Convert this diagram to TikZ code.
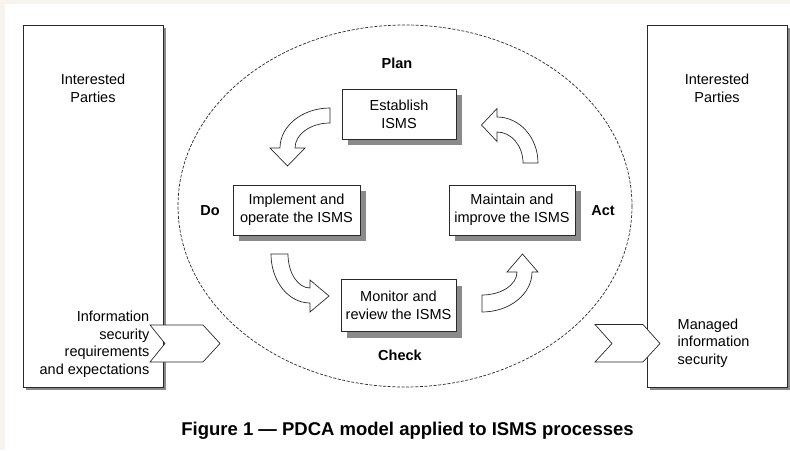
\documentclass[tikz,border=0pt]{standalone}
\usepackage{fontspec}
\setmainfont{Liberation Sans}
\usetikzlibrary{shadows}
\definecolor{paper}{HTML}{F7F3EE}
\definecolor{ink}{HTML}{2A2A2A}
\definecolor{shade}{HTML}{8A8A8A}
\tikzset{
  procbox/.style={draw=ink, line width=0.9pt, fill=white, inner sep=0pt,
    align=center, font=\fontsize{14.5}{18}\selectfont,
    drop shadow={shadow xshift=6pt, shadow yshift=-6pt, fill=shade, opacity=1}},
  partybox/.style={draw=ink, line width=0.9pt, fill=white, inner sep=0pt,
    minimum width=140pt, minimum height=362pt,
    drop shadow={shadow xshift=3pt, shadow yshift=-3pt, fill=shade, opacity=1}},
  body/.style={align=center, font=\fontsize{14.5}{17.5}\selectfont, inner sep=0pt},
  phase/.style={font=\bfseries\fontsize{14.5}{17}\selectfont, inner sep=0pt},
  blockarrow/.style={draw=ink, line width=0.7pt, fill=white, line join=miter},
}
\begin{document}
\begin{tikzpicture}[x=1pt,y=-1pt]
% page ground
\fill[paper] (0,0) rectangle (790,450);
\fill[white] (5,4) rectangle (790,450);
\useasboundingbox (0,0) rectangle (790,450);

% the PDCA cycle boundary
\draw[ink, line width=0.7pt, dash pattern=on 3pt off 1.6pt] (405,206) ellipse [x radius=227, y radius=181];

% interested parties on both sides
\node[partybox] (lparty) at (93,206) {};
\node[partybox] (rparty) at (717,206) {};
\node[body] (ltitle) at (93,88.5) {Interested\\Parties};
\node[body] (rtitle) at (717,88.5) {Interested\\Parties};
\node[body, align=right, anchor=east] (lreq) at (149.5,344) {Information\\security\\requirements\\and expectations};
\node[body, align=left, anchor=west] (rman) at (677.5,343) {Managed\\information\\security};

% input and output chevrons
\draw[blockarrow] (150,325) -- (203,325) -- (220,343.5) -- (203,362) -- (150,362) -- (165,343.5) -- cycle;
\draw[blockarrow] (595,324.5) -- (643,324.5) -- (660,343.5) -- (643,362) -- (595,362) -- (612,343.5) -- cycle;

% process boxes
\node[procbox, minimum width=114pt, minimum height=50pt] (plan) at (399,114) {Establish\\ISMS};
\node[procbox, minimum width=127pt, minimum height=50pt] (do) at (296.5,210) {Implement and\\operate the ISMS};
\node[procbox, minimum width=126pt, minimum height=50pt] (act) at (512,210) {Maintain and\\improve the ISMS};
\node[procbox, minimum width=115pt, minimum height=52pt] (check) at (398.5,305.5) {Monitor and\\review the ISMS};

% phase labels
\node[phase] (lplan) at (397,63) {Plan};
\node[phase] (ldo) at (210,211) {Do};
\node[phase] (lact) at (603,211) {Act};
\node[phase] (lcheck) at (400,355) {Check};

% curved block arrows of the cycle
% plan -> do
\draw[blockarrow] (330,108) .. controls (302.4,108) and (280,125.9) .. (280,148)
  -- (270,148) -- (287.5,166) -- (305,148) -- (295,148)
  .. controls (295,134.2) and (310.7,123) .. (330,123) -- cycle;
% do -> check
\draw[blockarrow] (271,254) .. controls (271,281.1) and (288.5,303) .. (310,303)
  -- (310,312) -- (329,296) -- (310,280) -- (310,288)
  .. controls (297.8,288) and (288,272.8) .. (288,254) -- cycle;
% check -> act
\draw[blockarrow] (482,312) .. controls (509.6,312) and (532,294.1) .. (532,272)
  -- (538,272) -- (522.5,254) -- (507,272) -- (517,272)
  .. controls (517,284.7) and (501.3,295) .. (482,295) -- cycle;
% act -> plan
\draw[blockarrow] (538,163) .. controls (538,137.6) and (519.6,117) .. (497,117)
  -- (497,108.5) -- (481.5,125) -- (497,141.5) -- (497,132)
  .. controls (511.4,132) and (523,145.9) .. (523,163) -- cycle;

% caption
\node[font=\bfseries\fontsize{18.5}{22}\selectfont, inner sep=0pt] (caption) at (407.5,431)
  {Figure 1 — PDCA model applied to ISMS processes};
\end{tikzpicture}
\end{document}
